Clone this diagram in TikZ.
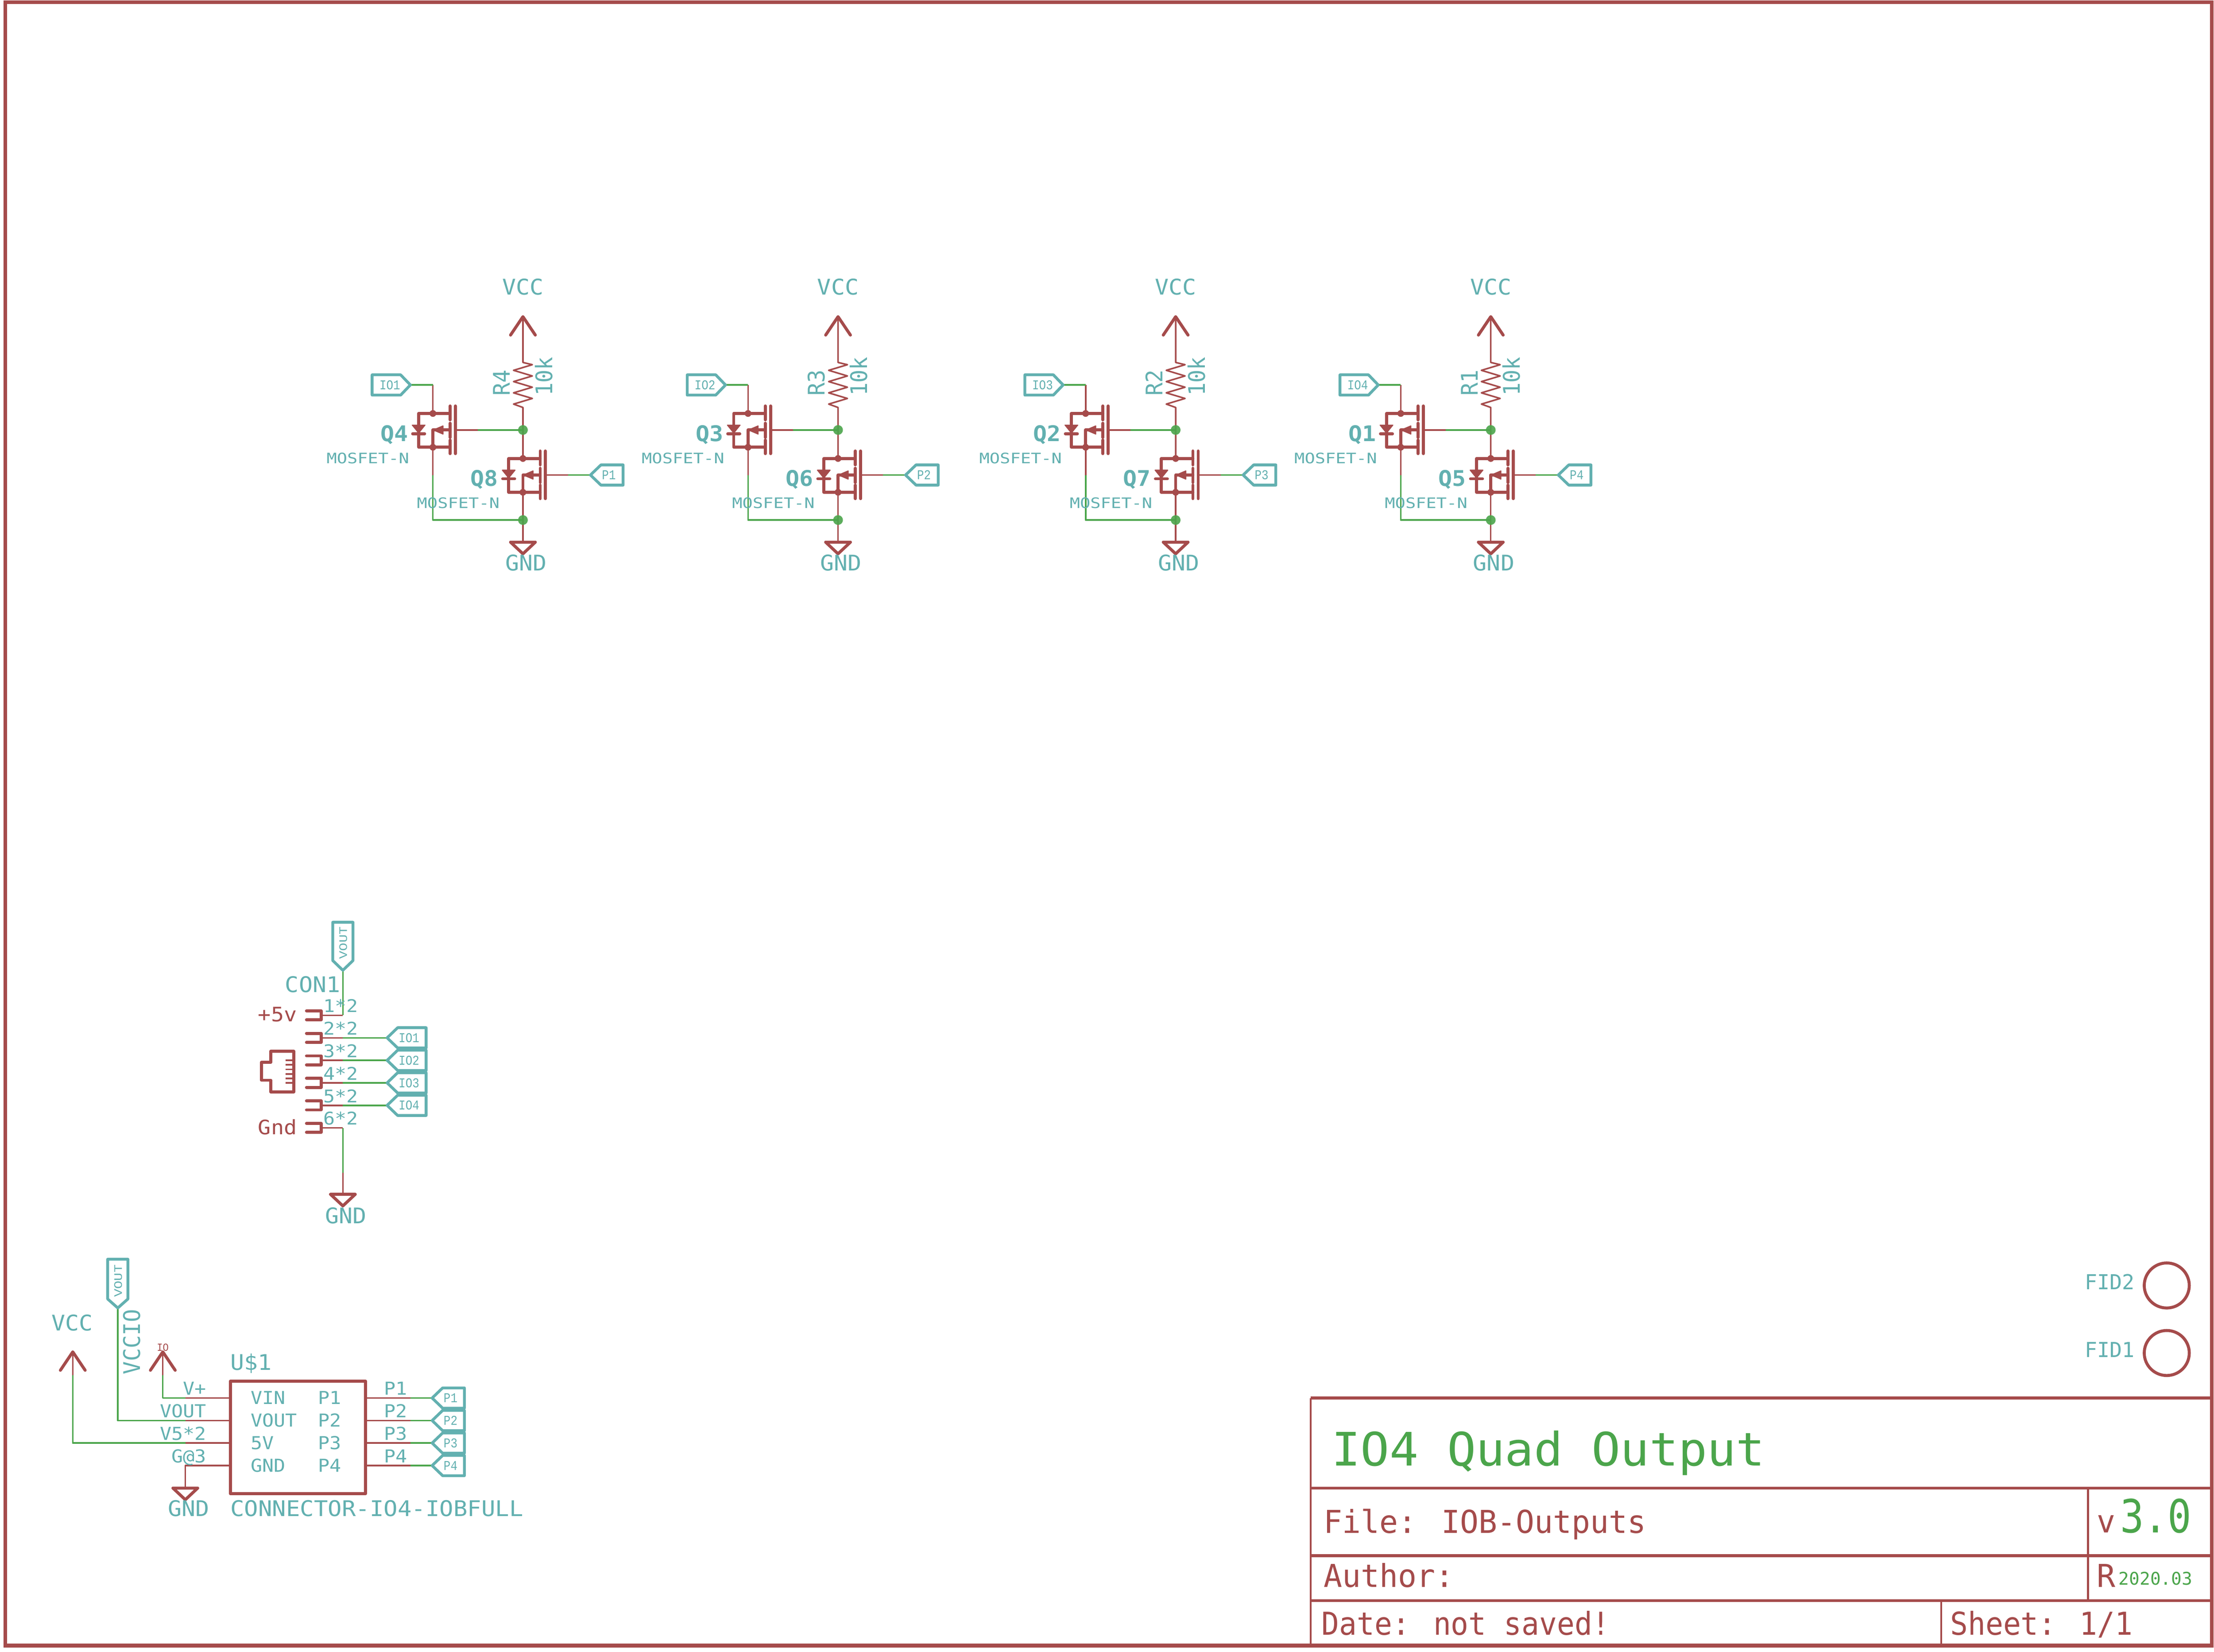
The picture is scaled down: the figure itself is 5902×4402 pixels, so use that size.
\documentclass[tikz,border=0pt]{standalone}
\usepackage{fontspec}
\usetikzlibrary{positioning}
\newfontfamily\eaglefont{DejaVu Sans Mono}
\newfontfamily\hairfont{Liberation Mono}
\definecolor{symred}{HTML}{A54B4B}
\definecolor{netgreen}{HTML}{4BA54B}
\definecolor{labteal}{HTML}{62B0B0}
\tikzset{wire/.style = {netgreen, line width=0.42pt, line join=round}}
\tikzset{lead/.style = {symred, line width=0.42pt, line join=round}}
\tikzset{sym/.style = {symred, line width=0.8pt, line cap=round, line join=round}}
\tikzset{solidsym/.style = {symred, fill=symred, line width=0.25pt, line join=round}}
\tikzset{flagline/.style = {labteal, line width=0.75pt, line join=round}}
\tikzset{frameline/.style = {symred, line width=0.8pt}}
\tikzset{divline/.style = {symred, line width=0.5pt}}
\tikzset{junc/.style = {netgreen, fill opacity=0.9}}
% text is given as: size, horizontal stretch
\tikzset{txt/.style 2 args = {font=\eaglefont\fontsize{#1}{#1}\selectfont, xscale=#2,
                              inner sep=0pt, transform shape, labteal}}
\tikzset{hair/.style 2 args = {font=\hairfont\fontsize{#1}{#1}\selectfont, xscale=#2,
                               inner sep=0pt, transform shape, labteal}}
\tikzset{big/.style = {txt={5.75}{1.06}}}
\tikzset{fetname/.style = {big, font=\eaglefont\bfseries\fontsize{5.75}{5.75}\selectfont}}
\tikzset{fetval/.style = {txt={3.84}{1.19}}}
\tikzset{pinlab/.style = {txt={4.75}{1.08}}}
\tikzset{flaglab/.style = {hair={3.6}{0.85}}}
\tikzset{head/.style = {txt={8.4}{0.98}, symred}}

\newcommand{\fetsym}[2]{%
  \begin{scope}[shift={(#2)}]
    \coordinate (#1d) at (0, -44);
    \coordinate (#1s) at (0, 46);
    \coordinate (#1b) at (60, 0);
    \coordinate (#1g) at (120, 0);
    \draw [sym] (46, -44) -- (-38, -44) -- (-38, 46) -- (46, 46);
    \draw [sym] (46, -64) -- (46, -27);
    \draw [sym] (46, -18) -- (46, 20);
    \draw [sym] (46, 27) -- (46, 63);
    \draw [sym] (60, -64) -- (60, 63);
    \draw [sym] (#1s) -- (0, 0) -- (46, 0);
    \filldraw [solidsym] (1, 0) -- (27, -11) -- (27, 11) -- cycle;
    \filldraw [solidsym] (-55, -13) -- (-21, -13) -- (-38, 8) -- cycle;
    \draw [sym] (-54, 10) -- (-22, 10);
    \fill [symred] (#1d) circle (0.9pt);
    \fill [symred] (#1s) circle (0.9pt);
    \draw [lead] (#1b) -- (#1g);
  \end{scope}}

\newcommand{\vccsym}[3]{%
  \coordinate (#1) at (#2, #3);
  \draw [sym] ([shift={(-33, 49)}]#1) -- (#1) -- ([shift={(33, 49)}]#1);}

\newcommand{\gndsym}[3]{%
  \coordinate (#1) at (#2, #3);
  \draw [sym] (#1) -- ([shift={(33, 0)}]#1) -- ([shift={(0, 31)}]#1)
              -- ([shift={(-33, 0)}]#1) -- cycle;}

% flag with its point on the left
\newcommand{\flagleft}[4]{%
  \coordinate (#1) at (#2);
  \draw [flagline] (#1) -- ([shift={(28, -27)}]#1) -- ([shift={(#3, -27)}]#1)
                   -- ([shift={(#3, 27)}]#1) -- ([shift={(28, 27)}]#1) -- cycle;
  \node [flaglab, anchor=west] (#1lab) at ([shift={(29, 0)}]#1) {#4};}

\newcommand{\outstage}[6]{%
  \begin{scope}[shift={(#1, 0)}]
    \fetsym{#2}{-240, 1146}
    \fetsym{#3}{0, 1266}
    \vccsym{#2vcc}{0}{844}
    \gndsym{#2gnd}{0}{1445}
    \coordinate (#2rtop) at (0, 966);
    \coordinate (#2rbot) at (0, 1086);
    \coordinate (#2jhi) at (0, 1146);
    \coordinate (#2jlo) at (0, 1386);
    \coordinate (#2in) at (-300, 1026);
    \coordinate (#2incor) at (-240, 1026);
    \coordinate (#2low) at (-240, 1266);
    \draw [lead] (#2vcc) -- (#2rtop) -- (25, 972) -- (-25, 987) -- (25, 1002) -- (-25, 1017)
                 -- (25, 1032) -- (-25, 1047) -- (25, 1062) -- (-25, 1077) -- (#2rbot) -- (#3d);
    \draw [lead] (#3s) -- (#2gnd);
    \draw [lead] (#2incor) -- (#2d);
    \draw [lead] (#2s) -- (#2low);
    \draw [wire] (#2in) -- (#2incor);
    \draw [wire] (#2g) -- (#2jhi);
    \draw [wire] (#2low) |- (#2jlo);
    \draw [wire] (#3g) -- ++(60, 0) coordinate (#3out);
    \fill [junc] (#2jhi) circle (1.3pt);
    \fill [junc] (#2jlo) circle (1.3pt);
    \draw [flagline] (#2in) -- ++(-26, -27) -- ++(-76, 0) -- ++(0, 54) -- ++(76, 0) -- cycle;
    \node [flaglab, anchor=west] (#2inlab) at (-384, 1026) {#5};
    \flagleft{#3flag}{#3out}{87}{#6}
    \node [big, anchor=base] (#2vcclab) at (0, 785) {VCC};
    \node [big, anchor=base] (#2gndlab) at (8, 1521) {GND};
    \node [big, anchor=base west, rotate=90] (#4name) at (-35, 1057) {#4};
    \node [big, anchor=base west, rotate=90] (#4val) at (78, 1057) {10k};
    \node [fetname, anchor=base east] (#2name) at (-304, 1176) {#2};
    \node [fetname, anchor=base east] (#3name) at (-64, 1296) {#3};
    \node [fetval, anchor=base east] (#2val) at (-301, 1235) {MOSFET-N};
    \node [fetval, anchor=base east] (#3val) at (-60, 1355) {MOSFET-N};
  \end{scope}}

\begin{document}
\begin{tikzpicture}[x=0.1pt, y=-0.1pt]
  \useasboundingbox (0, 0) rectangle (5902, 4402);
  \fill [white] (0, 0) rectangle (5902, 4402);

  % sheet frame and title block
  \draw [symred, line width=1pt] (14, 6) rectangle (5896, 4386);
  \coordinate (tl) at (3494, 3726);
  \coordinate (tr) at (5896, 3726);
  \coordinate (bl) at (3494, 4386);
  \draw [divline] (tl) -- (bl);
  \draw [frameline] (tl) -- (tr);
  \draw [frameline] (3494, 3966) -- (5896, 3966);
  \draw [frameline] (3494, 4146) -- (5896, 4146);
  \draw [frameline] (3494, 4266) -- (5896, 4266);
  \draw [divline] (5566, 3966) -- (5566, 4266);
  \draw [divline] (5175, 4266) -- (5175, 4386);
  \node [txt={12.3}{1.04}, netgreen, anchor=base west] (title) at (3548, 3906) {IO4 Quad Output};
  \node [head, anchor=base west] (file) at (3527, 4086) {File: IOB-Outputs};
  \node [head, anchor=base west] (author) at (3527, 4230) {Author:};
  \node [head, xscale=0.95, anchor=base west] (date) at (3521, 4357) {Date: not saved!};
  \node [head, xscale=0.95, anchor=base west] (sheet) at (5197, 4357) {Sheet: 1/1};
  \node [head, anchor=base west] (verv) at (5588, 4085) {v};
  \node [txt={12.2}{0.86}, netgreen, anchor=base west] (vernum) at (5650, 4085) {3.0};
  \node [head, anchor=base west] (revr) at (5588, 4230) {R};
  \node [txt={4.66}{1}, netgreen, anchor=base west] (revnum) at (5646, 4224) {2020.03};

  % output stages
  \outstage{1394}{Q4}{Q8}{R4}{IO1}{P1}
  \outstage{2234}{Q3}{Q6}{R3}{IO2}{P2}
  \outstage{3134}{Q2}{Q7}{R2}{IO3}{P3}
  \outstage{3974}{Q1}{Q5}{R1}{IO4}{P4}

  % connector
  \coordinate (vout) at (914, 2586);
  \coordinate (con1) at (914, 2706);
  \coordinate (con6) at (914, 3006);
  \coordinate (conlow) at (914, 3126);
  \gndsym{congnd}{914}{3183}
  \draw [wire] (vout) -- (con1);
  \draw [wire] (con6) -- (conlow);
  \draw [lead] (conlow) -- (congnd);
  \draw [flagline] (vout) -- ++(27, -26) -- ++(0, -102) -- ++(-54, 0) -- ++(0, 102) -- cycle;
  \node [flaglab, rotate=90, anchor=base west] (voutlab) at (925, 2558) {VOUT};
  \foreach \i/\y/\lab in {1/2706/1*2, 2/2766/2*2, 3/2826/3*2, 4/2886/4*2, 5/2946/5*2, 6/3006/6*2} {
    \coordinate (pin\i) at (856, \y);
    \coordinate (end\i) at (914, \y);
    \draw [sym] (817, \y - 12) -- (856, \y - 12) -- (856, \y + 12) -- (817, \y + 12);
    \draw [lead] (pin\i) -- (end\i);
    \node [txt={4.66}{1.1}, anchor=base west] (con\i lab) at (860, \y - 8) {\lab};
  }
  \foreach \i/\j/\y in {1/2/2766, 2/3/2826, 3/4/2886, 4/5/2946} {
    \coordinate (iotip\i) at (1032, \y);
    \draw [wire] (end\j) -- (iotip\i);
    \flagleft{ioflag\i}{iotip\i}{104}{IO\i}
  }
  \foreach \y in {2826, 2838, 2850, 2862, 2874, 2886} {
    \draw [symred, line width=0.45pt] (761, \y) -- (783, \y);
  }
  \draw [sym] (722, 2802) -- (783, 2802) -- (783, 2910) -- (722, 2910) -- (722, 2879)
              -- (697, 2879) -- (697, 2831) -- (722, 2831) -- cycle;
  \node [big, anchor=base west] (conname) at (758, 2645) {CON1};
  \node [txt={5.3}{1.08}, symred, anchor=base west] (plus5) at (686, 2723) {+5v};
  \node [txt={5.3}{1.08}, symred, anchor=base west] (gndpin) at (686, 3023) {Gnd};
  \node [big, anchor=base] (congndlab) at (922, 3261) {GND};

  % io board header
  \draw [sym, line width=0.85pt] (614, 3681) rectangle (974, 3981);
  \vccsym{vccb}{194}{3603}
  \vccsym{ioarrow}{434}{3603}
  \gndsym{hdrgnd}{494}{3966}
  \coordinate (vtop) at (314, 3486);
  \coordinate (vpin) at (614, 3726);
  \coordinate (vpinb) at (494, 3726);
  \coordinate (ocor) at (314, 3786);
  \coordinate (opin) at (614, 3786);
  \coordinate (opinb) at (494, 3786);
  \coordinate (fpin) at (614, 3846);
  \coordinate (fpinb) at (494, 3846);
  \coordinate (gpin) at (614, 3906);
  \coordinate (gcor) at (494, 3906);
  \coordinate (vccbend) at (194, 3665);
  \coordinate (ioend) at (434, 3665);
  \draw [lead] (vccb) -- (vccbend);
  \draw [lead] (ioarrow) -- (ioend);
  \draw [wire] (ioend) |- (vpinb);
  \draw [wire] (vccbend) |- (fpinb);
  \draw [wire] (vtop) -- (ocor) -- (opinb);
  \draw [lead] (vpinb) -- (vpin);
  \draw [lead] (opinb) -- (opin);
  \draw [lead] (fpinb) -- (fpin);
  \draw [lead] (gpin) -- (gcor) -- (hdrgnd);
  \draw [flagline] (vtop) -- ++(27, -24) -- ++(0, -106) -- ++(-54, 0) -- ++(0, 106) -- cycle;
  \node [flaglab, rotate=90, anchor=base west] (hdrvout) at (325, 3459) {VOUT};
  \foreach \i/\y in {1/3726, 2/3786, 3/3846, 4/3906} {
    \coordinate (ppin\i) at (974, \y);
    \coordinate (pmid\i) at (1094, \y);
    \coordinate (ptip\i) at (1152, \y);
    \draw [lead] (ppin\i) -- (pmid\i);
    \draw [wire] (pmid\i) -- (ptip\i);
    \flagleft{pflag\i}{ptip\i}{86}{P\i}
    \node [pinlab, anchor=base east] (plab\i) at (1088, \y - 8) {P\i};
    \node [pinlab, anchor=base east] (pint\i) at (912, \y + 17) {P\i};
  }
  \node [pinlab, anchor=base east] (lv) at (552, 3718) {V+};
  \node [pinlab, anchor=base east] (lo) at (552, 3778) {VOUT};
  \node [pinlab, anchor=base east] (lf) at (552, 3838) {V5*2};
  \node [pinlab, anchor=base east] (lg) at (552, 3898) {G@3};
  \node [pinlab, anchor=base west] (ii) at (666, 3743) {VIN};
  \node [pinlab, anchor=base west] (io) at (666, 3803) {VOUT};
  \node [pinlab, anchor=base west] (if) at (666, 3863) {5V};
  \node [pinlab, anchor=base west] (ig) at (666, 3923) {GND};
  \node [hair={2.9}{0.9}, symred, anchor=base] (iosup) at (434, 3601) {IO};
  \node [big, anchor=base] (vcclab) at (192, 3546) {VCC};
  \node [big, rotate=90, anchor=base west] (vccio) at (374, 3665) {VCCIO};
  \node [big, anchor=base west] (uname) at (612, 3652) {U\$1};
  \node [big, anchor=base] (hdrgndlab) at (503, 4041) {GND};
  \node [big, xscale=1.013, anchor=base west] (uval) at (612, 4041) {CONNECTOR-IO4-IOBFULL};

  % fiducials
  \draw [symred, line width=0.8pt] (5776, 3426) circle (6pt);
  \draw [symred, line width=0.8pt] (5776, 3606) circle (6pt);
  \node [txt={5.5}{1}, anchor=base west] (fid2) at (5556, 3437) {FID2};
  \node [txt={5.5}{1}, anchor=base west] (fid1) at (5556, 3617) {FID1};
\end{tikzpicture}
\end{document}
